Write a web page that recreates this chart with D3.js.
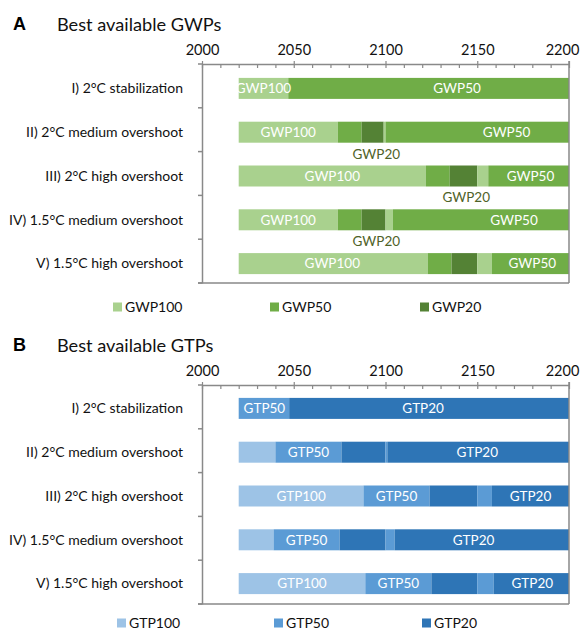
<!DOCTYPE html>
<html><head><meta charset="utf-8">
<script src="https://cdn.jsdelivr.net/npm/d3@7"></script>
<style>
body{margin:0;background:#fff}
text{font-family:Lato,"Open Sans",sans-serif}
</style></head>
<body><svg id="c" width="584" height="631"></svg>
<script>
// ---------------- DATA ----------------
const scenarios = ["I) 2°C stabilization","II) 2°C medium overshoot","III) 2°C high overshoot","IV) 1.5°C medium overshoot","V) 1.5°C high overshoot"];
const majorYears = [2000,2050,2100,2150,2200];
const minorYears = [2010,2020,2030,2040,2060,2070,2080,2090,2110,2120,2130,2140,2160,2170,2180,2190];

const gwpSeries = ["GWP100","GWP50","GWP20"];
const gwpColors = ["#a9d18e","#70ad47","#548235"];
// segments: [series, startYear, endYear]
const gwpSegments = [
  [["GWP100",2020,2047],["GWP50",2047,2200]],
  [["GWP100",2020,2074],["GWP50",2074,2087],["GWP20",2087,2099],["GWP100",2099,2100],["GWP50",2100,2200]],
  [["GWP100",2020,2122],["GWP50",2122,2135],["GWP20",2135,2150],["GWP100",2150,2156],["GWP50",2156,2200]],
  [["GWP100",2020,2074],["GWP50",2074,2087],["GWP20",2087,2100],["GWP100",2100,2104],["GWP50",2104,2200]],
  [["GWP100",2020,2123],["GWP50",2123,2136],["GWP20",2136,2150],["GWP100",2150,2158],["GWP50",2158,2200]]
];
// in-bar labels: [row, text, year]
const gwpBarLabels = [
  [0,"GWP100",2033.5],[0,"GWP50",2139],
  [1,"GWP100",2047],[1,"GWP50",2166],
  [2,"GWP100",2071],[2,"GWP50",2179],
  [3,"GWP100",2047],[3,"GWP50",2170],
  [4,"GWP100",2071],[4,"GWP50",2180]
];
// labels below bars: [row, text, year]
const gwpBelowLabels = [[1,"GWP20",2095],[2,"GWP20",2144],[3,"GWP20",2095]];

const gtpSeries = ["GTP100","GTP50","GTP20"];
const gtpColors = ["#9dc3e6","#5b9bd5","#2e75b6"];
const gtpSegments = [
  [["GTP50",2020,2047.5],["GTP20",2047.5,2200]],
  [["GTP100",2020,2040],["GTP50",2040,2076],["GTP20",2076,2100],["GTP50",2100,2101],["GTP20",2101,2200]],
  [["GTP100",2020,2088],["GTP50",2088,2124],["GTP20",2124,2150],["GTP50",2150,2158],["GTP20",2158,2200]],
  [["GTP100",2020,2039],["GTP50",2039,2075],["GTP20",2075,2100],["GTP50",2100,2105],["GTP20",2105,2200]],
  [["GTP100",2020,2089],["GTP50",2089,2125],["GTP20",2125,2150],["GTP50",2150,2159],["GTP20",2159,2200]]
];
const gtpBarLabels = [
  [0,"GTP50",2034],[0,"GTP20",2120.5],
  [1,"GTP50",2058],[1,"GTP20",2150],
  [2,"GTP100",2054],[2,"GTP50",2106],[2,"GTP20",2179],
  [3,"GTP50",2057],[3,"GTP20",2148],
  [4,"GTP100",2054.5],[4,"GTP50",2107],[4,"GTP20",2180]
];
const gtpBelowLabels = [];

// ---------------- DRAW ----------------
const svg = d3.select("#c");
const axisColor = "#898989";

function panel(cfg){
  const g = svg.append("g");
  const top = cfg.top, h = 219, left = 202, right = 569;
  const x = d3.scaleLinear().domain([2000,2200]).range([left,right]);
  const y = d3.scaleBand().domain(scenarios).range([top, top+h]);
  const color = d3.scaleOrdinal().domain(cfg.series).range(cfg.colors);
  const bh = 21, off = cfg.off;

  // letter + title
  g.append("text").attr("x",13).attr("y",top-34)
    .style("font-family","Arial, 'Liberation Sans', sans-serif")
    .attr("font-weight","bold").attr("font-size",18).text(cfg.letter);
  g.append("text").attr("x",57).attr("y",top-33).attr("font-size",18.2).attr("fill","#111").text(cfg.title);

  // bars
  cfg.segments.forEach((segs,i)=>{
    const yc = y(scenarios[i]) + y.bandwidth()/2 + off;
    g.selectAll(null).data(segs).enter().append("rect")
      .attr("x",d=>x(d[1])).attr("width",d=>x(d[2])-x(d[1]))
      .attr("y",yc-bh/2).attr("height",bh)
      .attr("fill",d=>color(d[0]));
  });
  g.selectAll(null).data(cfg.barLabels).enter().append("text")
    .attr("x",d=>x(d[2])).attr("y",d=>y(scenarios[d[0]])+y.bandwidth()/2+off)
    .attr("dy","0.36em").attr("text-anchor","middle").attr("font-size",13.5)
    .attr("fill","#fff").text(d=>d[1]);
  g.selectAll(null).data(cfg.belowLabels).enter().append("text")
    .attr("x",d=>x(d[2])).attr("y",d=>y(scenarios[d[0]])+y.bandwidth()/2+off+bh/2+11)
    .attr("dy","0.36em").attr("text-anchor","middle").attr("font-size",13.5)
    .attr("fill","#4f6228").text(d=>d[1]);

  // frame
  const fr = g.append("g").attr("stroke",axisColor).attr("stroke-width",1.5).attr("fill","none");
  fr.append("line").attr("x1",right).attr("x2",right).attr("y1",top-3).attr("y2",top+h);
  fr.append("line").attr("x1",left-4).attr("x2",right).attr("y1",top+h).attr("y2",top+h);

  // top axis: major ticks crossing, minor ticks inward
  const ax = g.append("g").attr("transform",`translate(0,${top})`)
    .call(d3.axisTop(x).tickValues(majorYears).tickFormat(d3.format("d")).tickSizeInner(3).tickSizeOuter(0));
  ax.select(".domain").attr("stroke",axisColor).attr("stroke-width",1.5);
  ax.selectAll(".tick line").attr("stroke",axisColor).attr("stroke-width",1.2).attr("y2",-3).attr("y1",4);
  ax.selectAll(".tick text").attr("font-size",14.5).style("font-family","Lato,'Open Sans',sans-serif")
    .attr("fill","#111").attr("y",-9).attr("dy",0)
    .attr("dx",d=>d===2200?-7:0);
  const axm = g.append("g").attr("transform",`translate(0,${top})`)
    .call(d3.axisTop(x).tickValues(minorYears).tickFormat("").tickSizeInner(-4).tickSizeOuter(0));
  axm.select(".domain").remove();
  axm.selectAll(".tick line").attr("stroke",axisColor).attr("stroke-width",1.2);

  // left axis: category ticks at boundaries
  const ay = g.append("g").attr("transform",`translate(${left},0)`)
    .call(d3.axisLeft(y).tickSize(0).tickPadding(19));
  ay.select(".domain").attr("stroke",axisColor).attr("stroke-width",1.5);
  ay.selectAll(".tick text").attr("font-size",14).style("font-family","Lato,'Open Sans',sans-serif")
    .attr("fill","#111").attr("dy","0.34em")
    .attr("transform",`translate(0,${off})`);
  const bounds = scenarios.map(s=>y(s)).concat([top+h]);
  ay.selectAll(null).data(bounds).enter().append("line")
    .attr("x1",-4).attr("x2",0).attr("y1",d=>d).attr("y2",d=>d)
    .attr("stroke",axisColor).attr("stroke-width",1.5);

  // legend
  const lg = g.append("g");
  cfg.series.forEach((s,i)=>{
    lg.append("rect").attr("x",cfg.legendX[i]).attr("y",cfg.legendY-4.5).attr("width",9).attr("height",9).attr("fill",color(s));
    lg.append("text").attr("x",cfg.legendX[i]+12).attr("y",cfg.legendY).attr("dy","0.35em")
      .attr("font-size",14).attr("fill","#111").text(s);
  });
}

panel({top:64, letter:"A", title:"Best available GWPs", series:gwpSeries, colors:gwpColors,
  segments:gwpSegments, barLabels:gwpBarLabels, belowLabels:gwpBelowLabels, off:2.5,
  legendX:[113,270,420], legendY:307});
panel({top:385, letter:"B", title:"Best available GTPs", series:gtpSeries, colors:gtpColors,
  segments:gtpSegments, barLabels:gtpBarLabels, belowLabels:gtpBelowLabels, off:1.5,
  legendX:[117,274,422], legendY:623});
</script>
</body></html>
